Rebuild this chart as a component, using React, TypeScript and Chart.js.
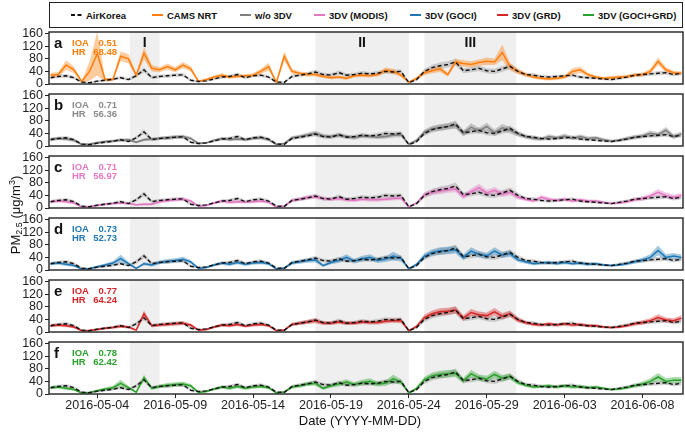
import React, { useEffect, useRef } from "react";
import { Chart, registerables } from "chart.js";
Chart.register(...registerables);

// ---------- data (12-hourly, starting 2016-05-01 00:00) ----------
const STEP_DAYS = 0.5;
const TICK_DAYS = [3, 8, 13, 18, 23, 28, 33, 38];
const TICK_LABELS = ["2016-05-04", "2016-05-09", "2016-05-14", "2016-05-19", "2016-05-24", "2016-05-29", "2016-06-03", "2016-06-08"];
const Y_TICKS = [0, 40, 80, 120, 160];
const EPISODE_NAMES = ["I", "II", "III"];
const EPISODE_START = [5.1, 17, 24];
const EPISODE_END = [7.0, 23, 29.9];

const AIRKOREA = [20,24,26,20,6,4,9,12,15,20,14,26,45,20,24,26,28,29,12,8,10,16,22,24,30,20,26,28,22,6,5,24,28,32,38,30,28,36,28,30,34,32,34,40,38,40,4,14,40,52,58,62,70,42,45,50,42,40,48,56,40,30,28,24,22,24,26,28,22,20,18,16,14,18,22,28,30,32,34,36,30,34];
const AIRKOREA_SPREAD = [5,5,6,5,3,3,4,4,4,5,4,6,8,5,5,6,6,6,4,3,3,4,5,5,6,5,5,6,5,3,3,5,6,6,7,6,6,7,6,6,7,6,7,7,7,7,4,4,8,9,10,10,11,8,8,9,8,8,9,9,8,6,6,5,5,5,5,6,5,5,4,4,4,5,5,6,6,6,7,7,6,6];

const CAMS_NRT = [28,30,60,45,8,40,96,14,14,88,80,28,98,50,45,55,45,60,48,8,14,22,28,22,24,26,28,40,55,5,88,40,34,30,30,24,20,22,18,26,28,26,30,44,40,28,6,18,36,42,48,30,70,65,62,68,72,70,100,55,40,30,22,18,16,18,22,40,45,30,22,18,20,22,24,28,30,40,72,45,36,34];
const CAMS_NRT_SPREAD = [8,8,15,10,4,30,70,6,5,15,15,6,20,10,8,10,8,10,8,3,4,5,6,5,5,5,6,8,12,3,15,8,6,6,6,5,5,5,5,5,6,5,6,8,8,6,3,5,8,8,10,6,10,10,10,10,12,10,25,12,8,6,5,5,5,5,6,10,10,6,5,5,5,5,5,6,6,8,12,8,6,6];

const WO_3DV = [22,24,22,18,5,6,10,14,16,18,20,12,20,22,24,26,28,30,24,8,10,18,24,20,22,20,24,26,20,5,8,26,30,36,40,32,30,34,30,26,32,30,28,30,34,36,6,18,44,55,58,62,66,40,60,48,62,42,58,50,38,30,24,22,30,26,32,24,30,24,26,20,16,18,24,28,32,40,36,50,30,38];
const WO_3DV_SPREAD = [5,5,5,5,3,3,4,4,4,5,5,4,5,5,5,6,6,6,5,3,3,4,5,5,5,5,5,6,5,3,3,6,6,7,8,7,6,7,6,6,7,6,6,7,7,8,3,5,8,9,10,10,11,10,12,10,12,10,12,10,8,7,6,6,7,6,8,6,7,6,6,5,4,5,6,7,7,9,8,10,8,8];

const DV_MODIS = [20,22,20,16,3,5,8,12,14,16,14,10,12,12,20,24,26,28,22,6,8,16,22,18,20,18,20,22,18,3,6,24,28,34,36,30,28,30,26,24,28,26,26,28,30,32,3,16,42,50,54,58,60,36,52,65,48,56,44,50,34,28,22,34,28,24,28,22,26,22,22,18,14,16,20,26,30,38,50,40,34,40];
const DV_MODIS_SPREAD = [5,5,5,4,2,3,3,4,4,4,4,3,4,4,5,6,6,6,5,2,3,4,5,5,5,4,5,5,4,2,3,6,6,7,7,6,6,6,6,5,6,6,6,6,6,7,2,4,8,9,10,10,10,8,10,12,10,11,9,10,7,6,5,7,6,6,6,5,6,5,5,4,3,4,5,6,7,8,10,9,8,8];

const DV_GOCI = [20,22,18,14,3,5,10,16,22,36,20,5,20,16,24,28,30,34,26,5,8,16,22,18,24,18,22,24,20,3,6,22,26,30,32,14,24,30,40,28,36,40,30,34,44,36,4,18,44,56,60,62,64,40,60,50,45,60,48,52,32,26,20,22,24,20,24,20,22,18,20,16,14,16,20,26,32,40,62,40,44,40];
const DV_GOCI_SPREAD = [5,5,5,4,2,3,4,5,6,12,6,2,5,5,6,7,7,8,6,2,3,4,5,5,6,5,5,6,5,2,3,5,6,7,8,4,6,8,10,7,9,10,8,9,14,9,2,5,9,10,12,12,12,9,12,10,10,12,10,10,7,6,5,5,6,5,6,5,6,5,5,4,3,4,5,6,8,10,16,10,10,9];

const DV_GRD = [20,22,20,16,4,5,8,12,14,18,16,6,58,20,22,24,26,28,22,6,8,16,22,20,24,18,22,24,20,4,6,24,28,32,36,28,28,32,28,28,32,30,30,34,36,36,4,18,46,58,64,66,70,44,62,55,52,64,50,58,38,30,24,22,26,22,26,22,24,20,20,16,14,16,20,26,30,36,46,38,36,44];
const DV_GRD_SPREAD = [5,5,5,4,2,3,3,4,4,5,4,2,10,5,5,6,6,6,5,2,3,4,5,5,5,4,5,5,4,2,3,5,6,7,8,6,6,7,6,6,7,6,6,7,7,8,2,4,9,10,11,11,12,9,11,10,10,12,10,10,8,6,5,5,6,5,6,5,5,5,5,4,3,4,5,6,7,8,10,8,8,9];

const DV_GOCI_GRD = [20,22,18,14,3,5,10,16,20,34,20,6,52,18,24,28,30,32,26,5,8,16,22,18,24,18,22,24,20,3,6,22,26,32,34,18,26,32,38,30,36,40,32,34,48,38,4,18,46,58,62,64,66,42,64,52,48,62,50,56,36,28,22,24,26,22,26,22,24,20,22,18,14,16,20,26,32,40,54,40,44,44];
const DV_GOCI_GRD_SPREAD = [5,5,5,4,2,3,4,5,6,11,6,2,9,5,6,7,7,8,6,2,3,4,5,5,6,5,5,6,5,2,3,5,6,7,8,5,6,8,9,7,9,10,8,9,13,9,2,5,9,10,12,12,12,9,12,10,10,12,10,10,7,6,5,5,6,5,6,5,6,5,5,4,3,4,5,6,8,10,13,10,10,9];

const PANEL_LETTERS = ["a", "b", "c", "d", "e", "f"];
const PANEL_IOA = ["0.51", "0.71", "0.71", "0.73", "0.77", "0.78"];
const PANEL_HR = ["68.48", "56.36", "56.97", "52.73", "64.24", "62.42"];
const PANEL_VALUES = [CAMS_NRT, WO_3DV, DV_MODIS, DV_GOCI, DV_GRD, DV_GOCI_GRD];
const PANEL_SPREADS = [CAMS_NRT_SPREAD, WO_3DV_SPREAD, DV_MODIS_SPREAD, DV_GOCI_SPREAD, DV_GRD_SPREAD, DV_GOCI_GRD_SPREAD];

const LEGEND_NAMES = ["AirKorea", "CAMS NRT", "w/o 3DV", "3DV (MODIS)", "3DV (GOCI)", "3DV (GRD)", "3DV (GOCI+GRD)"];
const LEGEND_COLORS = ["#111111", "#ff7f0e", "#7f7f7f", "#e377c2", "#1f77b4", "#d62728", "#2ca02c"];
const LEGEND_X = [71, 152, 240, 314, 410, 497, 583];
const MODEL_COLORS = LEGEND_COLORS.slice(1);
const MODEL_BANDS = ["rgba(255,127,14,0.4)", "rgba(127,127,127,0.4)", "rgba(227,119,194,0.4)", "rgba(31,119,180,0.4)", "rgba(214,39,40,0.4)", "rgba(44,160,44,0.4)"];

// ---------- layout ----------
const W = 685;
const PLOT_LEFT = 49;
const PLOT_RIGHT = 683;
const PANEL_TOP0 = 32;
const PANEL_H = 52;
const PANEL_STEP = 62;
const PAD = 10;
const XAXIS_H = 30;
const FONT = "'Liberation Sans', Arial, sans-serif";

const pts = (arr: number[]) => arr.map((v, i) => ({ x: i * STEP_DAYS, y: v }));
const band = (arr: number[], sp: number[], sign: number) => arr.map((v, i) => ({ x: i * STEP_DAYS, y: Math.max(0, v + sign * sp[i]) }));

const decorPlugin = {
  id: "decor",
  beforeDatasetsDraw(chart: any) {
    const { ctx, chartArea: a, scales } = chart;
    const x = scales.x;
    ctx.save();
    ctx.fillStyle = "#efefef";
    for (let i = 0; i < EPISODE_START.length; i++) {
      const x0 = x.getPixelForValue(EPISODE_START[i]);
      const x1 = x.getPixelForValue(EPISODE_END[i]);
      ctx.fillRect(x0, a.top, x1 - x0, a.bottom - a.top);
    }
    ctx.restore();
  },
  afterDatasetsDraw(chart: any, _a: any, opts: any) {
    const { ctx, chartArea: a, scales } = chart;
    const x = scales.x;
    ctx.save();
    ctx.strokeStyle = "#222";
    ctx.lineWidth = 1.4;
    ctx.strokeRect(a.left, a.top, a.right - a.left, a.bottom - a.top);
    ctx.fillStyle = "#111";
    ctx.font = `bold 15px ${FONT}`;
    ctx.textBaseline = "alphabetic";
    ctx.textAlign = "left";
    ctx.fillText(opts.letter, a.left + 5, a.top + 16);
    ctx.fillStyle = opts.color;
    ctx.font = `bold 9.5px ${FONT}`;
    ctx.fillText("IOA", a.left + 23, a.top + 13.5);
    ctx.fillText("HR", a.left + 23, a.top + 23);
    ctx.textAlign = "right";
    ctx.fillText(opts.ioa, a.left + 68, a.top + 13.5);
    ctx.fillText(opts.hr, a.left + 68, a.top + 23);
    if (opts.showEpisodes) {
      ctx.fillStyle = "#111";
      ctx.font = `bold 14px ${FONT}`;
      ctx.textAlign = "center";
      for (let i = 0; i < EPISODE_NAMES.length; i++) {
        const xc = x.getPixelForValue((EPISODE_START[i] + EPISODE_END[i]) / 2);
        ctx.fillText(EPISODE_NAMES[i], xc, a.top + 15);
      }
    }
    ctx.restore();
  },
};

function Panel({ idx }: { idx: number }) {
  const ref = useRef<HTMLCanvasElement | null>(null);
  const last = idx === 5;
  const top = PANEL_TOP0 + idx * PANEL_STEP - PAD;
  const height = PAD + PANEL_H + (last ? XAXIS_H : PAD);
  useEffect(() => {
    if (!ref.current) return;
    const color = MODEL_COLORS[idx];
    const chart = new Chart(ref.current, {
      type: "line",
      data: {
        datasets: [
          { data: band(AIRKOREA, AIRKOREA_SPREAD, -1), borderWidth: 0, borderColor: "rgba(0,0,0,0)", pointRadius: 0, fill: false, order: 5 },
          { data: band(AIRKOREA, AIRKOREA_SPREAD, 1), borderWidth: 0, borderColor: "rgba(0,0,0,0)", pointRadius: 0, fill: "-1", backgroundColor: "rgba(140,140,140,0.38)", order: 4 },
          { data: band(PANEL_VALUES[idx], PANEL_SPREADS[idx], -1), borderWidth: 0, borderColor: "rgba(0,0,0,0)", pointRadius: 0, fill: false, order: 3 },
          { data: band(PANEL_VALUES[idx], PANEL_SPREADS[idx], 1), borderWidth: 0, borderColor: "rgba(0,0,0,0)", pointRadius: 0, fill: "-1", backgroundColor: MODEL_BANDS[idx], order: 2 },
          { data: pts(PANEL_VALUES[idx]), borderColor: color, borderWidth: 1.5, pointRadius: 0, fill: false, order: 1 },
          { data: pts(AIRKOREA), borderColor: "#111", borderWidth: 1.4, borderDash: [4, 2.5], pointRadius: 0, fill: false, order: 0 },
        ] as any,
      },
      options: {
        animation: false,
        responsive: false,
        devicePixelRatio: 1,
        layout: { padding: { left: 0, right: W - PLOT_RIGHT, top: PAD, bottom: last ? 0 : PAD } },
        plugins: {
          legend: { display: false },
          tooltip: { enabled: false },
          decor: { letter: PANEL_LETTERS[idx], ioa: PANEL_IOA[idx], hr: PANEL_HR[idx], color: idx === 1 ? "#8a8a8a" : color, showEpisodes: idx === 0 },
        } as any,
        elements: { line: { tension: 0 } },
        scales: {
          x: {
            type: "linear",
            min: -0.1,
            max: 40.6,
            display: last,
            afterBuildTicks: (s: any) => { s.ticks = TICK_DAYS.map((v) => ({ value: v })); },
            afterFit: (s: any) => {
              if (last) { s.height = XAXIS_H; } else { s.height = 0; }
              s.paddingLeft = 0; s.paddingRight = 0;
            },
            ticks: {
              autoSkip: false, maxRotation: 0, padding: 0, color: "#222",
              font: { family: FONT, size: 12.5 },
              callback: (_v: any, i: number) => TICK_LABELS[i],
            },
            grid: { drawOnChartArea: false, drawTicks: true, tickLength: 4, color: "#222" },
            border: { display: false },
          },
          y: {
            min: 0,
            max: 165,
            afterBuildTicks: (s: any) => { s.ticks = Y_TICKS.map((v) => ({ value: v })); },
            afterFit: (s: any) => { s.width = PLOT_LEFT; s.paddingTop = 0; s.paddingBottom = 0; },
            ticks: { autoSkip: false, padding: 2, color: "#222", font: { family: FONT, size: 12.5 } },
            grid: { drawOnChartArea: false, drawTicks: true, tickLength: 4, color: "#222" },
            border: { display: false },
          },
        },
      } as any,
      plugins: [decorPlugin],
    });
    return () => chart.destroy();
  }, [idx]);
  return (
    <canvas
      ref={ref}
      width={W}
      height={height}
      style={{ position: "absolute", left: 0, top, width: W, height }}
    />
  );
}

function LegendSwatch({ i }: { i: number }) {
  if (i === 0) {
    return (
      <svg width={11} height={4} style={{ display: "block" }}>
        <line x1={0} y1={2} x2={11} y2={2} stroke="#111" strokeWidth={2} strokeDasharray="4,2.5" />
      </svg>
    );
  }
  return <div style={{ width: 11, height: 2, background: LEGEND_COLORS[i] }} />;
}

export default function App() {
  return (
    <div style={{ position: "absolute", left: 0, top: 0, width: W, height: 434, background: "#fff", overflow: "hidden", fontFamily: FONT }}>
      <div style={{ position: "absolute", left: PLOT_LEFT, top: 2, width: PLOT_RIGHT - PLOT_LEFT, height: 26, border: "1.5px solid #222", boxSizing: "border-box" }} />
      {LEGEND_NAMES.map((n, i) => (
        <div key={n} style={{ position: "absolute", left: LEGEND_X[i], top: 8, height: 14, display: "flex", alignItems: "center", gap: 4 }}>
          <LegendSwatch i={i} />
          <span style={{ fontSize: 9.5, fontWeight: "bold", color: "#111", whiteSpace: "nowrap" }}>{n}</span>
        </div>
      ))}
      {PANEL_LETTERS.map((_, i) => (
        <Panel key={i} idx={i} />
      ))}
      <div style={{ position: "absolute", left: 12 - 60, top: 215 - 9, width: 120, height: 18, transform: "rotate(-90deg)", textAlign: "center", fontSize: 13, lineHeight: "18px", color: "#111", whiteSpace: "nowrap" }}>
        PM<sub style={{ fontSize: 9, verticalAlign: "-2px" }}>2.5</sub> (μg/m<sup style={{ fontSize: 9, verticalAlign: "5px" }}>3</sup>)
      </div>
      <div style={{ position: "absolute", left: 260, top: 413, width: 200, textAlign: "center", fontSize: 13, lineHeight: "16px", color: "#111" }}>
        Date (YYYY-MM-DD)
      </div>
    </div>
  );
}
